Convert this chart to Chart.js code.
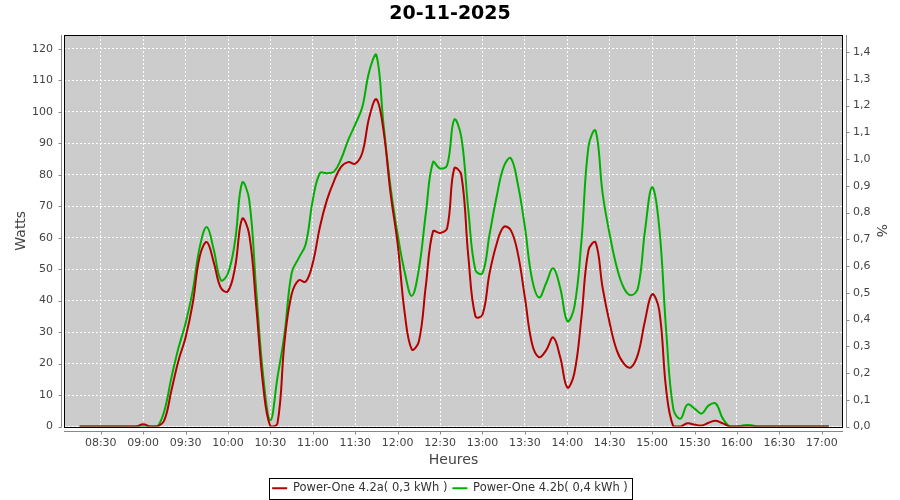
<!DOCTYPE html>
<html>
<head>
<meta charset="utf-8">
<title>20-11-2025</title>
<script src="https://cdn.jsdelivr.net/npm/chart.js@4.4.0/dist/chart.umd.min.js"></script>
<style>
  html, body { margin: 0; padding: 0; background: #fff; }
  #wrap { width: 900px; height: 500px; }
</style>
</head>
<body>
<div id="wrap"><canvas id="chart" width="900" height="500"></canvas></div>
<script>
const chartTitle = '20-11-2025';
const seriesNames = ['Power-One 4.2a( 0,3 kWh )', 'Power-One 4.2b( 0,4 kWh )'];

// sample times, every 5 minutes
const times = [
    '08:15', '08:20', '08:25', '08:30', '08:35', '08:40', '08:45', '08:50', '08:55',
    '09:00', '09:05', '09:10', '09:15', '09:20', '09:25', '09:30', '09:35', '09:40', '09:45', '09:50', '09:55',
    '10:00', '10:05', '10:10', '10:15', '10:20', '10:25', '10:30', '10:35', '10:40', '10:45', '10:50', '10:55',
    '11:00', '11:05', '11:10', '11:15', '11:20', '11:25', '11:30', '11:35', '11:40', '11:45', '11:50', '11:55',
    '12:00', '12:05', '12:10', '12:15', '12:20', '12:25', '12:30', '12:35', '12:40', '12:45', '12:50', '12:55',
    '13:00', '13:05', '13:10', '13:15', '13:20', '13:25', '13:30', '13:35', '13:40', '13:45', '13:50', '13:55',
    '14:00', '14:05', '14:10', '14:15', '14:20', '14:25', '14:30', '14:35', '14:40', '14:45', '14:50', '14:55',
    '15:00', '15:05', '15:10', '15:15', '15:20', '15:25', '15:30', '15:35', '15:40', '15:45', '15:50', '15:55',
    '16:00', '16:05', '16:10', '16:15', '16:20', '16:25', '16:30', '16:35', '16:40', '16:45', '16:50', '16:55',
    '17:00', '17:05'
];

// Watts, Power-One 4.2a
const powerA = [
    0, 0, 0, 0, 0, 0, 0, 0, 0,
    0.7, 0, 0, 2, 11.5, 21, 28.3, 39, 54, 58.6, 52, 44,
    43, 50.6, 66, 61, 38, 12.4, 0, 1, 27, 42, 46.5, 46,
    52, 63.4, 72, 78, 82.5, 84, 83.5, 87, 98.4, 104, 94, 74,
    58, 36, 24.5, 27, 45, 62, 61.5, 63, 82, 80, 54, 35,
    35.5, 48.7, 58, 63.4, 62.4, 55, 41, 26.4, 22, 24.2, 28.3, 22,
    12.4, 17, 34.7, 56, 58.5, 44, 32.8, 24.2, 20, 18.8, 23, 33.7,
    42, 37, 11.5, 0, 0, 1, 0.6, 0.3, 1.2, 1.8, 1, 0,
    0, 0, 0, 0, 0, 0, 0, 0, 0, 0, 0, 0,
    0, 0
];

// Watts, Power-One 4.2b
const powerB = [
    0, 0, 0, 0, 0, 0, 0, 0, 0,
    0, 0, 0, 5, 15.6, 25, 32.8, 43, 57, 63.4, 56, 46.5,
    48.7, 59, 77.5, 72, 43, 15.6, 2, 15.6, 29.6, 48.7, 53.5, 58,
    72, 80.5, 80.5, 81, 85, 91, 96, 101.5, 113, 118, 96, 76,
    61, 49, 41.5, 50, 68, 84, 82, 83, 97.5, 92, 68.7, 49.7,
    48.7, 61, 73, 82.5, 85.3, 77, 63.4, 47, 41, 45.5, 50.3, 44,
    33.5, 38, 59, 89, 94, 74, 61, 50.6, 44, 41.7, 44, 62.4,
    76, 63.4, 30, 5.5, 2.5, 7, 5.7, 4.1, 6.7, 7.3, 2.5, 0,
    0, 0.4, 0.4, 0, 0, 0, 0, 0, 0, 0, 0, 0,
    0, 0
];

const xTickLabels = ['08:30', '09:00', '09:30', '10:00', '10:30', '11:00', '11:30', '12:00', '12:30',
    '13:00', '13:30', '14:00', '14:30', '15:00', '15:30', '16:00', '16:30', '17:00'];
const xRange = ['08:04', '17:15'];
const wattsMax = 124.4;
const percentMax = 1.464;

function toMin(s) {
    const p = s.split(':');
    return parseInt(p[0], 10) * 60 + parseInt(p[1], 10);
}
function fmtTime(v) {
    const h = Math.floor(v / 60), m = Math.round(v % 60);
    return String(h).padStart(2, '0') + ':' + String(m).padStart(2, '0');
}

const tickFont = { family: 'DejaVu Sans', size: 11 };
const titleFont = { family: 'DejaVu Sans', size: 14 };
const axisGray = '#888888';

// plot background, black frame, offset gray axis lines and legend box
const plotFrame = {
    id: 'plotFrame',
    afterLayout(chart) {
        const lg = chart.legend;
        lg.top += 4;
        lg.bottom += 4;
    },
    beforeDraw(chart) {
        const { ctx, chartArea: a } = chart;
        ctx.save();
        ctx.fillStyle = '#cccccc';
        ctx.fillRect(a.left, a.top, a.right - a.left, a.bottom - a.top);
        ctx.restore();
    },
    afterDraw(chart) {
        const { ctx, chartArea: a } = chart;
        ctx.save();
        ctx.lineWidth = 1;
        ctx.strokeStyle = '#000';
        ctx.strokeRect(Math.round(a.left) + 0.5, Math.round(a.top) + 0.5,
            Math.round(a.right - a.left) - 1, Math.round(a.bottom - a.top));

        ctx.strokeStyle = axisGray;
        const lx = Math.round(a.left) - 3 + 0.5;
        const rx = Math.round(a.right) + 3 + 0.5;
        const by = Math.round(a.bottom) + 4 + 0.5;
        ctx.beginPath();
        ctx.moveTo(lx, a.top); ctx.lineTo(lx, a.bottom + 1);
        ctx.moveTo(rx, a.top); ctx.lineTo(rx, a.bottom + 1);
        ctx.moveTo(a.left, by); ctx.lineTo(a.right, by);
        chart.scales.y.ticks.forEach(t => {
            const p = Math.round(chart.scales.y.getPixelForValue(t.value)) + 0.5;
            ctx.moveTo(lx - 3, p); ctx.lineTo(lx, p);
        });
        chart.scales.y1.ticks.forEach(t => {
            const p = Math.round(chart.scales.y1.getPixelForValue(t.value)) + 0.5;
            ctx.moveTo(rx, p); ctx.lineTo(rx + 3, p);
        });
        chart.scales.x.ticks.forEach(t => {
            const p = Math.round(chart.scales.x.getPixelForValue(t.value)) + 0.5;
            ctx.moveTo(p, by); ctx.lineTo(p, by + 3);
        });
        ctx.stroke();

        // legend border
        const lg = chart.legend;
        const pad = lg.options.labels.padding;
        const rowW = lg.lineWidths[0] - pad;
        const startX = (lg.left + pad + lg.right - lg.lineWidths[0]) / 2;
        const cy = lg.top + pad + 6;
        ctx.strokeStyle = '#000';
        ctx.strokeRect(Math.round(startX - 3) + 0.5, Math.round(cy - 11) + 0.5, Math.round(rowW + 7), 21);
        ctx.restore();
    }
};

const ctx = document.getElementById('chart').getContext('2d');
new Chart(ctx, {
    type: 'line',
    data: {
        datasets: [{
            label: seriesNames[0],
            data: times.map((t, i) => ({ x: toMin(t), y: powerA[i] })),
            borderColor: '#b40000',
            backgroundColor: '#b40000',
            borderWidth: 2,
            pointRadius: 0,
            tension: 0.4,
            yAxisID: 'y'
        }, {
            label: seriesNames[1],
            data: times.map((t, i) => ({ x: toMin(t), y: powerB[i] })),
            borderColor: '#00b000',
            backgroundColor: '#00b000',
            borderWidth: 2,
            pointRadius: 0,
            tension: 0.4,
            yAxisID: 'y',
            order: 1
        }]
    },
    options: {
        responsive: false,
        animation: false,
        devicePixelRatio: 1,
        layout: { padding: 0 },
        plugins: {
            title: {
                display: true,
                text: chartTitle,
                color: '#000',
                font: { family: 'DejaVu Sans', size: 19, weight: 'bold' },
                padding: { top: 2.6, bottom: 9.6 }
            },
            legend: {
                position: 'bottom',
                labels: {
                    usePointStyle: true,
                    pointStyle: 'line',
                    pointStyleWidth: 15,
                    padding: 5,
                    color: '#333',
                    font: { family: 'DejaVu Sans', size: 11.5 }
                }
            },
            tooltip: { enabled: false }
        },
        scales: {
            x: {
                type: 'linear',
                min: toMin(xRange[0]),
                max: toMin(xRange[1]),
                afterBuildTicks: s => { s.ticks = xTickLabels.map(l => ({ value: toMin(l) })); },
                afterFit: s => { s.height = 47; },
                ticks: {
                    callback: v => fmtTime(v),
                    color: '#444',
                    font: tickFont,
                    padding: 10,
                    maxRotation: 0,
                    autoSkip: false
                },
                grid: { color: '#ffffff', lineWidth: 1, drawTicks: false, borderDash: [2, 2] },
                border: { display: false, dash: [2, 2] },
                title: { display: true, text: 'Heures', color: '#444', font: titleFont, padding: { top: 0, bottom: 4.6 } }
            },
            y: {
                position: 'left',
                min: 0,
                max: wattsMax,
                afterFit: s => { s.width = 64; },
                ticks: { stepSize: 10, includeBounds: false, color: '#444', font: tickFont, padding: 11 },
                grid: { color: '#ffffff', lineWidth: 1, drawTicks: false, borderDash: [2, 2] },
                border: { display: false, dash: [2, 2] },
                title: { display: true, text: 'Watts', color: '#444', font: titleFont, padding: { top: 13, bottom: 0 } }
            },
            y1: {
                position: 'right',
                min: 0,
                max: percentMax,
                afterFit: s => { s.width = 57; },
                ticks: {
                    stepSize: 0.1,
                    includeBounds: false,
                    color: '#444',
                    font: tickFont,
                    padding: 10,
                    callback: v => v.toFixed(1).replace('.', ',')
                },
                grid: { drawOnChartArea: false, drawTicks: false },
                border: { display: false },
                title: { display: true, text: '%', color: '#444', font: titleFont, padding: { top: 11, bottom: 0 } }
            }
        }
    },
    plugins: [plotFrame]
});
</script>
</body>
</html>
